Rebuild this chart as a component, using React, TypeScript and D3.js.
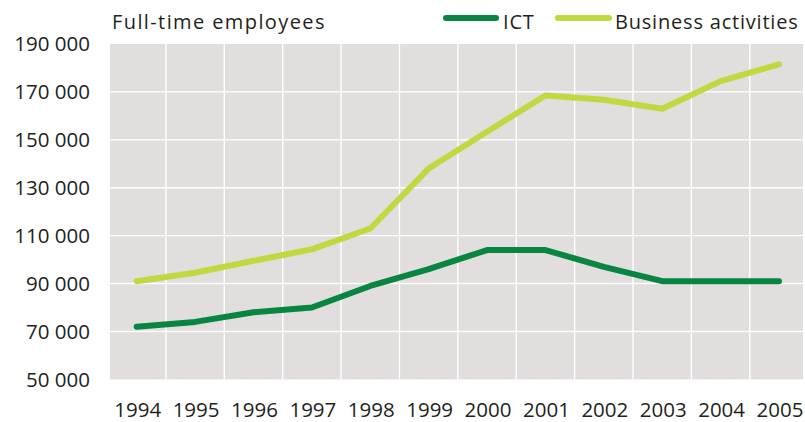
import * as d3 from "d3";

const years = ["1994", "1995", "1996", "1997", "1998", "1999", "2000", "2001", "2002", "2003", "2004", "2005"];
const ict = [72000, 74000, 78000, 80000, 89000, 96000, 104000, 104000, 97000, 91000, 91000, 91000];
const business = [91000, 94500, 99500, 104300, 113000, 138000, 153400, 168500, 166700, 163000, 174500, 181500];
const yTicks = [50000, 70000, 90000, 110000, 130000, 150000, 170000, 190000];

const W = 805;
const H = 422;
const plot = { left: 110, right: 803, top: 44, bottom: 379.4 };
const font = "'Open Sans', sans-serif";
const textColor = "#231f20";
const darkGreen = "#078541";
const lightGreen = "#c1d841";

export default function App() {
  const x = d3.scalePoint(years, [136.7, 779]);
  const y = d3.scaleLinear([50000, 190000], [plot.bottom, plot.top]);
  const step = x.step();
  const fmt = (v: number) => d3.format(",")(v).replace(/,/g, " ");

  const line = d3
    .line<number>()
    .x((_, i) => x(years[i])!)
    .y((d) => y(d));

  return (
    <svg width={W} height={H} style={{ position: "absolute", left: 0, top: 0 }} fontFamily={font}>
      <rect x={plot.left} y={plot.top} width={plot.right - plot.left} height={plot.bottom - plot.top} fill="#e1dedd" />
      {/* vertical grid between years */}
      {years.slice(0, -1).map((yr) => (
        <line key={"v" + yr} x1={x(yr)! + step / 2} x2={x(yr)! + step / 2} y1={plot.top} y2={plot.bottom} stroke="#fff" strokeWidth={1.4} />
      ))}
      {yTicks.slice(1, -1).map((t) => (
        <line key={"h" + t} x1={plot.left} x2={plot.right} y1={y(t)} y2={y(t)} stroke="#fff" strokeWidth={1.4} />
      ))}
      {yTicks.map((t) => (
        <text key={"yl" + t} x={90} y={y(t)} dy="0.36em" textAnchor="end" fontSize={20.5} fill={textColor}>
          {fmt(t)}
        </text>
      ))}
      {years.map((yr) => (
        <text key={"xl" + yr} x={x(yr)! + 1} y={417} textAnchor="middle" fontSize={20.5} fill={textColor}>
          {yr}
        </text>
      ))}
      <path d={line(business)!} fill="none" stroke={lightGreen} strokeWidth={6} strokeLinecap="round" strokeLinejoin="round" />
      <path d={line(ict)!} fill="none" stroke={darkGreen} strokeWidth={6} strokeLinecap="round" strokeLinejoin="round" />

      <text x={112} y={29} fontSize={20} fill={textColor} letterSpacing={1.4}>
        Full-time employees
      </text>
      <line x1={446} x2={496} y1={18} y2={18} stroke={darkGreen} strokeWidth={6} strokeLinecap="round" />
      <text x={503} y={29} fontSize={20} fill={textColor} letterSpacing={0.8}>
        ICT
      </text>
      <line x1={558} x2={609} y1={18} y2={18} stroke={lightGreen} strokeWidth={6} strokeLinecap="round" />
      <text x={615} y={29} fontSize={20} fill={textColor} letterSpacing={0.8}>
        Business activities
      </text>
    </svg>
  );
}
